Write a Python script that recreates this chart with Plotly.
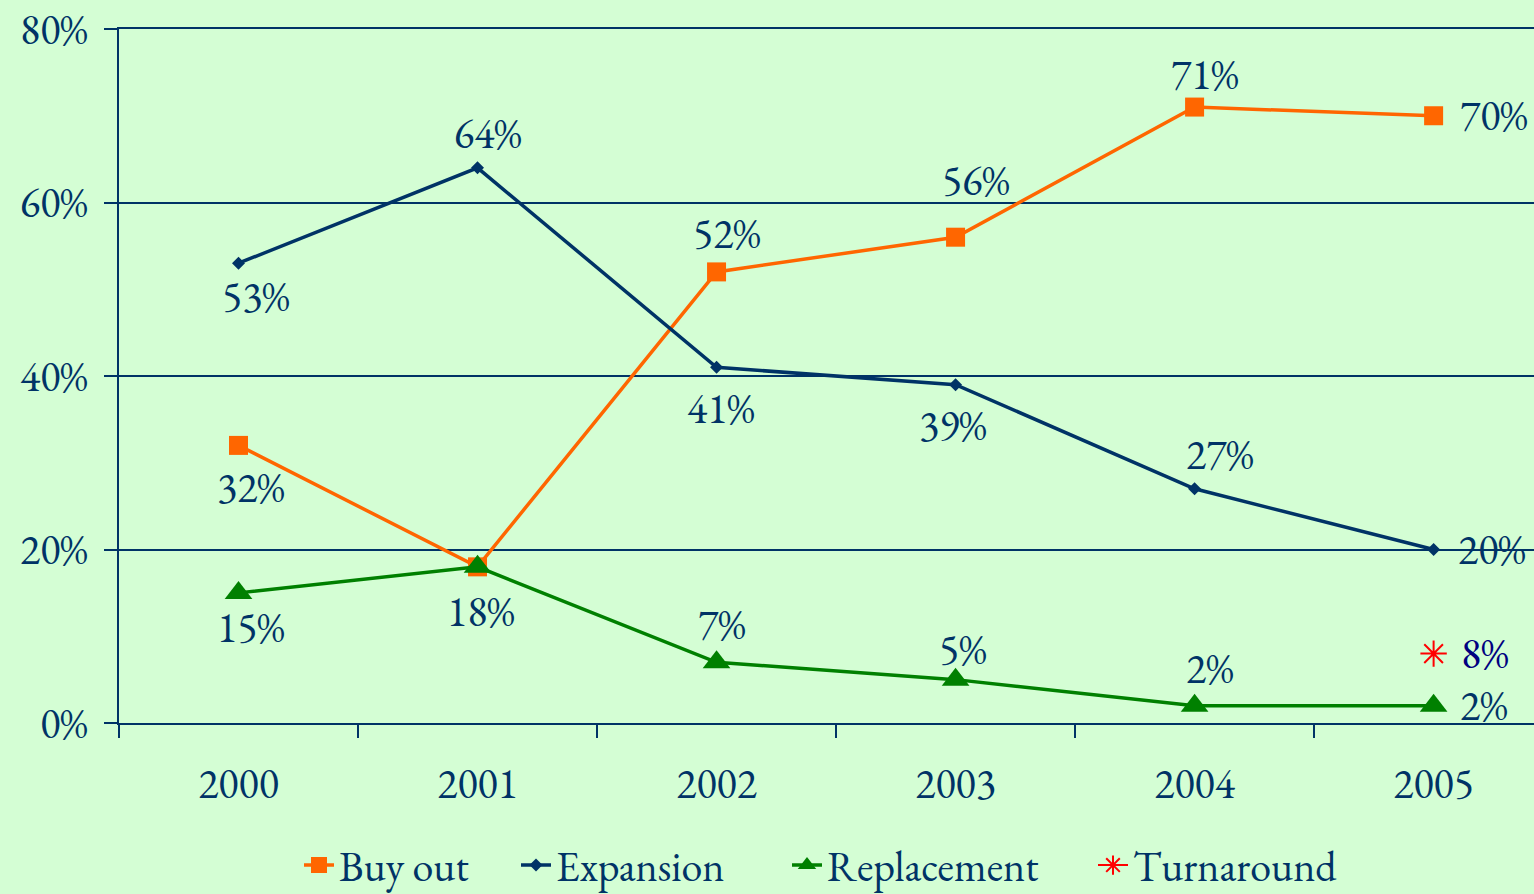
import plotly.graph_objects as go

years = ["2000", "2001", "2002", "2003", "2004", "2005"]
buy_out = [32, 18, 52, 56, 71, 70]
expansion = [53, 64, 41, 39, 27, 20]
replacement = [15, 18, 7, 5, 2, 2]
turnaround = [None, None, None, None, None, 8]

# label offsets (dx, dy in px; positive dy = up)
buy_off = [(12, -42), (3, -45), (10, 38), (20, 57), (10, 33), (60, 0)]
exp_off = [(17, -33), (10, 34), (4, -41), (-3, -41), (25, 34), (58, 0)]
rep_off = [(12, -35), None, (5, 38), (7, 30), (15, 37), (50, 0)]
tur_off = [None, None, None, None, None, (51, 0)]

BG = "#D4FED4"
NAVY = "#003366"
FONT = "EB Garamond, Garamond, Liberation Serif, serif"
FS = 42

fig = go.Figure()
fig.add_trace(go.Scatter(x=years, y=buy_out, name="Buy out", mode="lines+markers", legend="legend",
                         line=dict(color="#FF6600", width=3.5),
                         marker=dict(symbol="square", size=19, color="#FF6600"), cliponaxis=False))
fig.add_trace(go.Scatter(x=years, y=expansion, name="Expansion", mode="lines+markers", legend="legend2",
                         line=dict(color=NAVY, width=3.5),
                         marker=dict(symbol="diamond", size=10, color=NAVY), cliponaxis=False))
fig.add_trace(go.Scatter(x=years, y=replacement, name="Replacement", mode="lines+markers", legend="legend3",
                         line=dict(color="#008000", width=3.5),
                         marker=dict(symbol="triangle-up", size=24, color="#008000"), cliponaxis=False))
fig.add_trace(go.Scatter(x=years, y=turnaround, name="Turnaround", mode="lines+markers", legend="legend4",
                         line=dict(color="#FF0000", width=2),
                         marker=dict(symbol="asterisk-open", size=22, color="#FF0000",
                                     line=dict(color="#FF0000", width=2)), cliponaxis=False))

annotations = []
for vals, offs, col in [(buy_out, buy_off, NAVY), (expansion, exp_off, NAVY),
                        (replacement, rep_off, NAVY), (turnaround, tur_off, "#000080")]:
    for i, (v, o) in enumerate(zip(vals, offs)):
        if v is None or o is None:
            continue
        annotations.append(dict(x=i, y=v, xref="x", yref="y", text=f"{v}%", showarrow=False,
                                xshift=o[0], yshift=o[1],
                                font=dict(family=FONT, size=FS, color=col)))

def leg(xp):
    return dict(orientation="h", x=(xp - 119) / 1415, xanchor="left", y=-0.205, yanchor="middle",
                font=dict(family=FONT, size=FS, color=NAVY), bgcolor="rgba(0,0,0,0)")

fig.update_layout(
    width=1534, height=894,
    margin=dict(l=119, r=0, t=29, b=171, autoexpand=False),
    paper_bgcolor=BG, plot_bgcolor=BG,
    font=dict(family=FONT, size=FS, color=NAVY),
    showlegend=True,
    legend=leg(299), legend2=leg(516), legend3=leg(787), legend4=leg(1093),
    annotations=annotations,
)
fig.update_xaxes(type="category", range=[-0.5, 5.42], tickson="boundaries",
                 ticks="outside", ticklen=13, tickwidth=2, tickcolor=NAVY,
                 showline=True, linecolor=NAVY, linewidth=2, mirror=True, showgrid=False,
                 ticklabelstandoff=23, zeroline=False)
fig.update_yaxes(range=[0, 80], dtick=20, ticksuffix="%", ticks="outside", ticklen=13,
                 tickwidth=2, tickcolor=NAVY, showline=True, linecolor=NAVY, linewidth=2,
                 showgrid=True, gridcolor=NAVY, gridwidth=2, zeroline=False,
                 ticklabelstandoff=8)

fig.write_html("out.html", config={"displayModeBar": False},
               post_script="document.body.style.margin='0';document.body.style.padding='0';"
                           "document.body.style.background='" + BG + "';")
